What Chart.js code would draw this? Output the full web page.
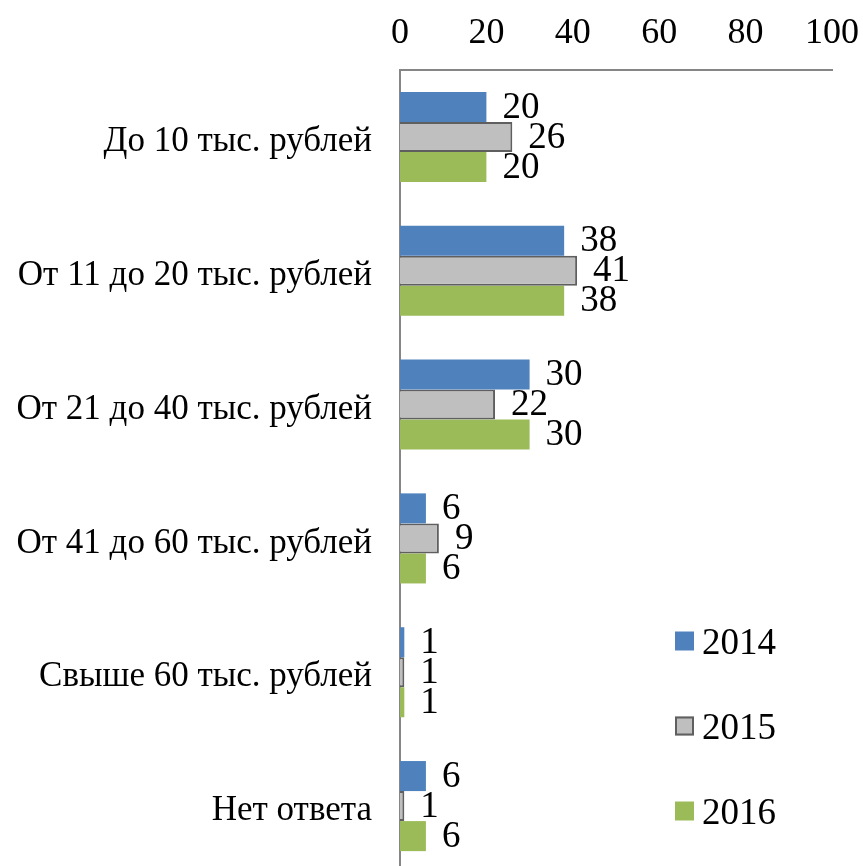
<!DOCTYPE html>
<html>
<head>
<meta charset="utf-8">
<script src="https://cdn.jsdelivr.net/npm/chart.js@4/dist/chart.umd.min.js"></script>
<style>
  html, body { margin: 0; padding: 0; background: #ffffff; overflow: hidden; }
  #wrap { width: 863px; height: 880px; position: relative; }
</style>
</head>
<body>
<div id="wrap"><canvas id="c" width="863" height="880"></canvas></div>
<script>
const categories = [
  "До 10 тыс. рублей",
  "От 11 до 20 тыс. рублей",
  "От 21 до 40 тыс. рублей",
  "От 41 до 60 тыс. рублей",
  "Свыше 60 тыс. рублей",
  "Нет ответа"
];
const seriesNames = ["2014", "2015", "2016"];
const values2014 = [20, 38, 30, 6, 1, 6];
const values2015 = [26, 41, 22, 9, 1, 1];
const values2016 = [20, 38, 30, 6, 1, 6];
const xTicks = [0, 20, 40, 60, 80, 100];

const FONT = "'Liberation Serif', 'Times New Roman', serif";

const valueLabels = {
  id: 'valueLabels',
  afterDatasetsDraw(chart) {
    const ctx = chart.ctx;
    ctx.save();
    ctx.font = "37px " + FONT;
    ctx.fillStyle = "#000000";
    ctx.textAlign = "left";
    ctx.textBaseline = "middle";
    chart.data.datasets.forEach((ds, di) => {
      const meta = chart.getDatasetMeta(di);
      meta.data.forEach((bar, i) => {
        ctx.fillText(String(ds.data[i]), bar.x + 16, bar.y + 1);
      });
    });
    ctx.restore();
  }
};

const innerLegend = {
  id: 'innerLegend',
  afterDraw(chart, args, opts) {
    const ctx = chart.ctx;
    ctx.save();
    ctx.font = "37px " + FONT;
    ctx.textAlign = "left";
    ctx.textBaseline = "middle";
    chart.data.datasets.forEach((ds, i) => {
      const cy = opts.y0 + i * opts.gap;
      const s = opts.box;
      ctx.fillStyle = ds.backgroundColor;
      ctx.fillRect(opts.x, cy - s / 2, s, s);
      if (ds.borderWidth) {
        ctx.strokeStyle = ds.borderColor;
        ctx.lineWidth = ds.borderWidth;
        ctx.strokeRect(opts.x + 1, cy - s / 2 + 1, s - 2, s - 2);
      }
      ctx.fillStyle = "#000000";
      ctx.fillText(ds.label, opts.x + s + 8, cy + 3);
    });
    ctx.restore();
  }
};

new Chart(document.getElementById('c'), {
  type: 'bar',
  data: {
    labels: categories,
    datasets: [
      { label: seriesNames[0], data: values2014, backgroundColor: '#4F81BD', borderWidth: 0 },
      { label: seriesNames[1], data: values2015, backgroundColor: '#BFBFBF', borderColor: '#5F5F5F', borderWidth: 2 },
      { label: seriesNames[2], data: values2016, backgroundColor: '#9BBB59', borderWidth: 0 }
    ]
  },
  options: {
    indexAxis: 'y',
    responsive: false,
    animation: false,
    devicePixelRatio: 1,
    layout: { autoPadding: false, padding: { left: 0, right: 31, top: 0, bottom: 7 } },
    datasets: { bar: { categoryPercentage: 0.673, barPercentage: 1.0 } },
    plugins: {
      legend: { display: false },
      tooltip: { enabled: false },
      innerLegend: { x: 675, y0: 641, gap: 85, box: 19 }
    },
    scales: {
      x: {
        position: 'top',
        min: 0,
        max: 100,
        afterBuildTicks(scale) { scale.ticks = xTicks.map(v => ({ value: v })); },
        afterFit(scale) {
          scale.height = 70;
          scale.paddingLeft = 0; scale.paddingRight = 0;
          scale.paddingTop = 0; scale.paddingBottom = 0;
        },
        grid: { display: false, drawTicks: false },
        border: { display: true, color: '#868686', width: 2 },
        ticks: { font: { family: FONT, size: 36 }, color: '#000000', padding: 15, maxRotation: 0 }
      },
      y: {
        afterFit(scale) {
          scale.width = 400;
          scale.paddingLeft = 0; scale.paddingRight = 0;
          scale.paddingTop = 0; scale.paddingBottom = 0;
        },
        grid: { display: false, drawTicks: false },
        border: { display: true, color: '#868686', width: 2 },
        ticks: { font: { family: FONT, size: 35 }, color: '#000000', padding: 28, labelOffset: 5 }
      }
    }
  },
  plugins: [valueLabels, innerLegend]
});
</script>
</body>
</html>
